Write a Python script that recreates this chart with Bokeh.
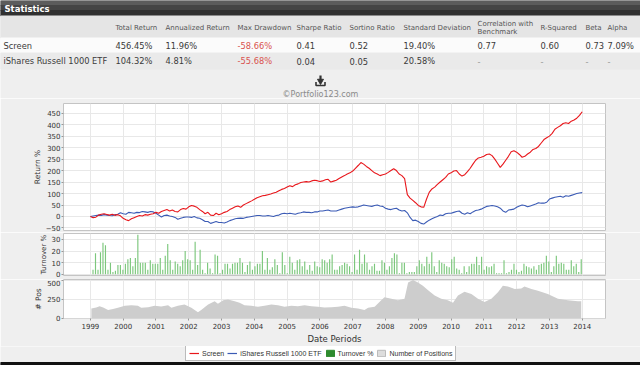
import numpy as np
from bokeh.plotting import figure
from bokeh.layouts import column
from bokeh.models import Range1d, FixedTicker, Grid, Legend, LegendItem
from bokeh.embed import file_html
from bokeh.resources import INLINE
from bokeh.core.properties import value

FONT = "DejaVu Sans"
LFONT = "Liberation Sans"
BG = "#efefef"
RED = "#e8161b"
BLUE = "#3b5bb5"

# ---------------- statistics table ----------------
stat_headers = ["Total Return", "Annualized Return", "Max Drawdown", "Sharpe Ratio",
                "Sortino Ratio", "Standard Deviation", "Correlation with", "R-Squared", "Beta", "Alpha"]
series_names = ["Screen", "iShares Russell 1000 ETF"]
screen_stats = ["456.45%", "11.96%", "-58.66%", "0.41", "0.52", "19.40%", "0.77", "0.60", "0.73", "7.09%"]
ishares_stats = ["104.32%", "4.81%", "-55.68%", "0.04", "0.05", "20.58%", "-", "-", "-", "-"]
legend_labels = ["Screen", "iShares Russell 1000 ETF", "Turnover %", "Number of Positions"]

# ---------------- chart data ----------------
years = list(range(1999, 2015))
# monthly cumulative return %, Jan 1999 .. Jan 2014
screen_ret = [
    0, -5, -3, 6, 10, 12, 9, 6, 10, 5, 8, 3,
    -8, -14, -18, -10, -5, 0, 4, 2, 8, 6, 10, 12,
    18, 14, 22, 26, 30, 24, 28, 22, 20, 30, 35, 32,
    42, 48, 45, 40, 30, 22, 12, 18, 6, 4, 14, 8,
    12, 18, 22, 30, 36, 42, 46, 40, 50, 56, 62, 68,
    75, 82, 86, 90, 92, 95, 98, 102, 106, 112, 118, 122,
    128, 134, 130, 138, 142, 148, 150, 152, 150, 155, 158, 156,
    152, 155, 160, 162, 150, 154, 158, 165, 172, 178, 185, 190,
    198, 210, 222, 235, 228, 218, 210, 200, 190, 185, 178, 182,
    185, 192, 200, 208, 200, 185, 178, 165, 95, 80, 70, 60,
    48, 42, 40, 75, 105, 120, 128, 140, 150, 160, 170, 185,
    190, 198, 200, 185, 176, 182, 195, 210, 228, 245, 255, 258,
    262, 270, 272, 265, 250, 232, 214, 228, 245, 262, 282, 286,
    280, 270, 258, 262, 272, 280, 292, 296, 305, 320, 335, 343,
    350, 362, 380, 388, 395, 405, 408, 405, 415, 420, 428, 440,
    456]
ishares_ret = [
    0, 2, 4, 6, 5, 8, 6, 4, 3, 8, 10, 16,
    12, 10, 18, 16, 14, 18, 17, 22, 20, 18, 22, 20,
    14, 6, -2, 4, 6, 2, 0, -4, -12, -8, -4, -2,
    -2, -4, 0, -6, -8, -14, -22, -22, -30, -26, -22, -26,
    -26, -28, -24, -18, -14, -10, -8, -7, -8, -4, -2, 0,
    2, 4, 4, 2, 2, 4, 2, 0, 4, 6, 12, 14,
    12, 14, 12, 10, 14, 16, 20, 18, 18, 16, 20, 20,
    24, 24, 26, 28, 24, 24, 24, 28, 32, 36, 38, 40,
    42, 40, 42, 46, 50, 48, 46, 44, 48, 50, 46, 44,
    36, 32, 30, 34, 36, 28, 24, 26, 16, -4, -18, -16,
    -22, -30, -33, -24, -16, -10, -4, 0, 6, 4, 12, 14,
    14, 18, 22, 24, 14, 10, 16, 12, 20, 26, 28, 32,
    38, 44, 46, 48, 46, 42, 36, 24, 18, 28, 30, 32,
    40, 46, 50, 48, 42, 46, 50, 54, 60, 58, 58, 62,
    76, 80, 84, 86, 88, 84, 90, 88, 92, 96, 100, 102,
    104]
ret_x = 1999 + np.arange(len(screen_ret)) / 12.0

# turnover % at each 4-weekly rebalance
turnover = [
    4, 18, 4, 19, 27, 25, 4, 10, 2, 3, 8, 8, 4, 9, 13, 14, 7, 14, 34, 10,
    10, 10, 4, 12, 9, 9, 9, 14, 4, 16, 26, 12, 4, 11, 9, 7, 12, 20, 13, 12,
    4, 28, 8, 21, 4, 1, 10, 5, 1, 17, 16, 1, 4, 9, 9, 5, 9, 10, 10, 14,
    10, 2, 8, 11, 4, 7, 9, 9, 20, 4, 14, 4, 6, 13, 8, 1, 19, 8, 1, 15,
    10, 4, 12, 13, 7, 11, 4, 8, 3, 11, 7, 6, 13, 12, 10, 13, 17, 4, 4, 7,
    8, 10, 9, 7, 2, 17, 4, 21, 9, 17, 10, 4, 7, 9, 3, 3, 12, 10, 4, 7,
    14, 18, 17, 1, 10, 10, 1, 2, 2, 2, 7, 12, 9, 7, 15, 9,
    19, 7, 2, 12, 10, 9, 7, 6, 13, 15, 5, 4, 1, 7, 2, 7, 9, 9, 15, 8,
    15, 4, 7, 6, 7, 9, 1, 1, 1, 12, 1, 2, 4, 9, 4, 2, 3, 9, 7, 6,
    5, 7, 4, 8, 9, 10, 16, 11, 2, 7, 16, 9, 10, 9, 4, 4, 12, 7, 9, 2, 13]
turnover_x = np.linspace(1999.08, 2013.97, len(turnover))

# number of positions
pos_years = [1999.03, 1999.18, 1999.28, 1999.39, 1999.54, 1999.69, 1999.84, 2000.05, 2000.25, 2000.45,
             2000.55, 2000.76, 2000.96, 2001.16, 2001.37, 2001.47, 2001.67, 2001.87, 2002.08, 2002.18,
             2002.28, 2002.38, 2002.59, 2002.79, 2002.89, 2003.05, 2003.20, 2003.40, 2003.55, 2003.70,
             2003.91, 2004.11, 2004.31, 2004.52, 2004.72, 2004.92, 2005.13, 2005.33, 2005.53, 2005.74,
             2005.94, 2006.14, 2006.35, 2006.55, 2006.75, 2006.96, 2007.16, 2007.36, 2007.47, 2007.67,
             2007.87, 2007.97, 2008.18, 2008.38, 2008.58, 2008.69, 2008.84, 2008.99, 2009.14, 2009.30,
             2009.50, 2009.70, 2009.90, 2010.06, 2010.21, 2010.41, 2010.62, 2010.82, 2011.02, 2011.23,
             2011.43, 2011.58, 2011.73, 2011.94, 2012.14, 2012.24, 2012.45, 2012.65, 2012.95, 2013.26,
             2013.56, 2013.87, 2013.97]
pos_values = [127, 140, 157, 140, 106, 119, 136, 161, 170, 161,
              136, 144, 161, 153, 170, 136, 161, 178, 136, 106,
              76, 106, 178, 220, 190, 233, 246, 220, 203, 170,
              161, 148, 161, 178, 170, 148, 161, 157, 170, 157,
              148, 140, 144, 148, 161, 136, 127, 106, 136, 148,
              233, 275, 254, 233, 254, 466, 500, 466, 424, 365,
              297, 254, 233, 203, 297, 347, 318, 254, 212, 254,
              339, 424, 415, 381, 390, 415, 381, 360, 318, 254,
              233, 220, 220]

COMMON = dict(output_backend="svg", toolbar_location=None, frame_align=False)
W = 640

# ---------------- header / table figure ----------------
hdr = figure(width=W, height=98, x_range=Range1d(0, 640), y_range=Range1d(98, 0),
             min_border=0, x_axis_location=None, y_axis_location=None, outline_line_color=None,
             background_fill_color=BG, border_fill_color=BG, **COMMON)
hdr.grid.visible = False
hdr.quad(left=[0], right=[640], top=[0], bottom=[5], color="#5c5c5c")
hdr.quad(left=[0], right=[640], top=[5], bottom=[10], color="#454545")
hdr.quad(left=[0], right=[640], top=[10], bottom=[15.5], color="#303030")
hdr.quad(left=[0], right=[640], top=[15.5], bottom=[37.5], color="#e5e5e5")
hdr.quad(left=[0], right=[640], top=[37.5], bottom=[52.5], color="#fbfbfb")
hdr.quad(left=[0], right=[640], top=[52.5], bottom=[68.5], color="#eaeaea")
hdr.text(x=[4], y=[8], text=["Statistics"], text_font=value(FONT), text_font_size="8.5px",
         text_font_style="bold", text_color="white", text_baseline="middle")

col_x = [115, 165, 237, 296, 349, 403, 477, 540, 585, 607]
hy = [27] * len(stat_headers)
hy[6] = 23.5
hdr.text(x=col_x, y=hy, text=stat_headers, text_font=value(FONT), text_font_size="7px",
         text_color="#555555", text_baseline="middle")
hdr.text(x=[col_x[6]], y=[31.5], text=["Benchmark"], text_font=value(FONT), text_font_size="7px",
         text_color="#555555", text_baseline="middle")
hdr.text(x=[3, 3], y=[45, 60.5], text=series_names, text_font=value(FONT), text_font_size="8.3px",
         text_color="#3a3a3a", text_baseline="middle")


def cell_colors(vals):
    return ["#d9534f" if (v.startswith("-") and len(v) > 1) else ("#999999" if v == "-" else "#3a3a3a")
            for v in vals]


hdr.text(x=col_x, y=[45] * len(col_x), text=screen_stats, text_color=cell_colors(screen_stats),
         text_font=value(FONT), text_font_size="8.3px", text_baseline="middle")
hdr.text(x=col_x, y=[60.5] * len(col_x), text=ishares_stats, text_color=cell_colors(ishares_stats),
         text_font=value(FONT), text_font_size="8.3px", text_baseline="middle")

# download icon and copyright
hdr.segment(x0=[320], y0=[75], x1=[320], y1=[80], line_width=2.2, line_color="#333333")
hdr.scatter(x=[320], y=[80.5], marker="inverted_triangle", size=6, color="#333333")
hdr.line(x=[315.5, 315.5, 324.5, 324.5], y=[81.5, 85, 85, 81.5], line_width=1.6, line_color="#333333")
hdr.text(x=[320], y=[93.5], text=["\u00a9Portfolio123.com"], text_font=value(FONT), text_font_size="8px",
         text_color="#8a8a8a", text_align="center", text_baseline="middle")

# ---------------- chart panels ----------------
xr = Range1d(1998.18, 2014.71)
year_ticker = FixedTicker(ticks=years)


def make_panel(height, top_border, bottom_border, yr, yticks, ylabel, label_size,
               baseline="middle", with_xaxis=False):
    p = figure(width=W, height=height, x_range=xr, y_range=Range1d(*yr),
               x_axis_location="below" if with_xaxis else None,
               min_border_left=63, min_border_right=35, min_border_top=top_border,
               min_border_bottom=bottom_border,
               background_fill_color="white", border_fill_color=BG,
               outline_line_color="#c4c4c4", **COMMON)
    yt = FixedTicker(ticks=yticks)
    ax = p.yaxis[0]
    ax.ticker = yt
    ax.axis_line_color = None
    ax.major_tick_line_color = "#999999"
    ax.major_tick_out = 2
    ax.major_tick_in = 0
    ax.minor_tick_line_color = None
    ax.major_label_text_font = FONT
    ax.major_label_text_font_size = "7px"
    ax.major_label_text_color = "#333333"
    ax.major_label_text_baseline = baseline
    ax.major_label_standoff = 1
    ax.axis_label = ylabel
    ax.axis_label_text_font = FONT
    ax.axis_label_text_font_size = label_size
    ax.axis_label_text_font_style = "normal"
    ax.axis_label_text_color = "#333333"
    ax.axis_label_standoff = 1
    p.ygrid.ticker = yt
    p.ygrid.grid_line_color = "#e8e8e8"
    if with_xaxis:
        xa = p.xaxis[0]
        xa.ticker = year_ticker
        xa.axis_line_color = None
        xa.major_tick_line_color = "#999999"
        xa.major_tick_out = 2
        xa.major_tick_in = 0
        xa.minor_tick_line_color = None
        xa.major_label_text_font = FONT
        xa.major_label_text_font_size = "7px"
        xa.major_label_text_color = "#333333"
        xa.major_label_standoff = 2
        xa.axis_label = "Date Periods"
        xa.axis_label_text_font = FONT
        xa.axis_label_text_font_size = "8.5px"
        xa.axis_label_text_font_style = "normal"
        xa.axis_label_text_color = "#333333"
        xa.axis_label_standoff = 2
        p.xgrid.ticker = year_ticker
        p.xgrid.grid_line_color = "#e8e8e8"
    else:
        p.add_layout(Grid(dimension=0, ticker=year_ticker, grid_line_color="#e8e8e8"))
    return p


ret = make_panel(134, 5, 2, (-61, 492), list(range(-50, 451, 50)), "Return %", "7.5px")
ret.line(ret_x, ishares_ret, line_color=BLUE, line_width=1.1)
ret.line(ret_x, screen_ret, line_color=RED, line_width=1.1)

turn = make_panel(47, 1, 4, (-1.0, 35), [0, 10, 20, 30], "Turnover %", "7px", baseline="alphabetic")
turn.vbar(x=turnover_x, top=turnover, bottom=0, width=0.035, fill_color="#7cc77c", line_color=None)

pos = make_panel(67, 0, 25, (-5, 507), [0, 250, 500], "# Pos", "7.5px", baseline="top", with_xaxis=True)
pos.varea(x=pos_years, y1=[0] * len(pos_values), y2=pos_values, fill_color="#cdcdcd")

# ---------------- legend footer ----------------
foot = figure(width=W, height=19, x_range=Range1d(0, 640), y_range=Range1d(365, 346),
              min_border=0, x_axis_location=None, y_axis_location=None, outline_line_color=None,
              background_fill_color=BG, border_fill_color=BG, **COMMON)
foot.grid.visible = False
foot.quad(left=[0], right=[640], top=[362], bottom=[365], color="#111111")
# legend-only sample glyphs (placed outside the visible range)
off = [-50, -40]
r_s = foot.line(x=off, y=[350, 350], line_color=RED, line_width=1.2)
r_b = foot.line(x=off, y=[350, 350], line_color=BLUE, line_width=1.2)
r_t = foot.quad(left=[-50], right=[-40], top=[350], bottom=[355], fill_color="#2e8b2e", line_color="#2e8b2e")
r_n = foot.quad(left=[-50], right=[-40], top=[350], bottom=[355], fill_color="#dddddd", line_color="#bbbbbb")
legend = Legend(items=[LegendItem(label=legend_labels[0], renderers=[r_s]),
                       LegendItem(label=legend_labels[1], renderers=[r_b]),
                       LegendItem(label=legend_labels[2], renderers=[r_t]),
                       LegendItem(label=legend_labels[3], renderers=[r_n])],
                orientation="horizontal", location=(185, 4),
                label_text_font=LFONT, label_text_font_size="7px", label_text_color="#333333",
                glyph_width=10, glyph_height=8, label_standoff=3, spacing=3,
                padding=3, margin=0, label_height=8,
                border_line_color="#777777", background_fill_color="white", background_fill_alpha=1)
foot.add_layout(legend)

layout = column(hdr, ret, turn, pos, foot, spacing=0)
open("out.html", "w").write(file_html(layout, INLINE))
